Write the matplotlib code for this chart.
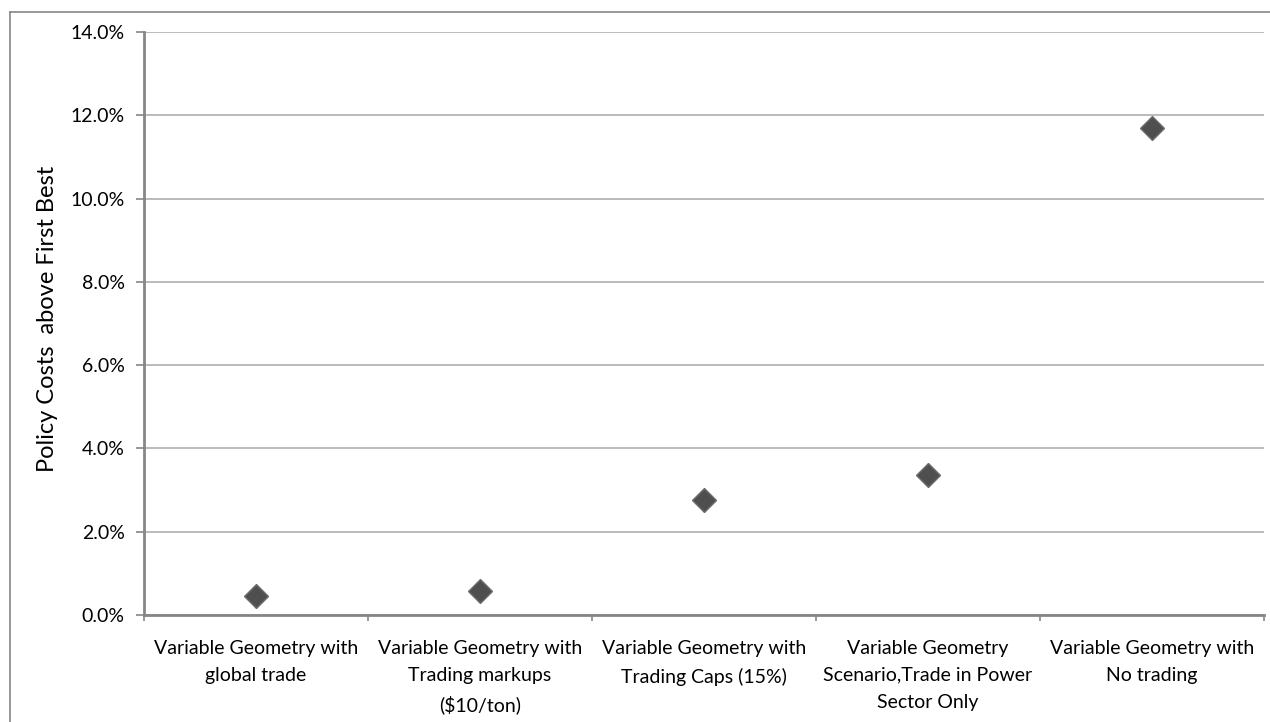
import matplotlib
matplotlib.use("Agg")

import matplotlib.pyplot as plt
from matplotlib.lines import Line2D
from matplotlib.ticker import FuncFormatter

# data (percent above first best)
categories = [
    "Variable Geometry with\nglobal trade",
    "Variable Geometry with\nTrading markups\n($10/ton)",
    "Variable Geometry with\nTrading Caps (15%)",
    "Variable Geometry\nScenario,Trade in Power\nSector Only",
    "Variable Geometry with\nNo trading",
]
costs = [0.46, 0.57, 2.76, 3.36, 11.69]
y_ticks = [0, 2, 4, 6, 8, 10, 12, 14]

plt.rcParams["font.family"] = ["Lato", "DejaVu Sans"]

W, H = 1270, 722
x0, x1, ytop, ybot = 144, 1264, 32, 615
fig = plt.figure(figsize=(W / 100, H / 100), dpi=100)
ax = fig.add_axes([x0 / W, (H - ybot) / H, (x1 - x0) / W, (ybot - ytop) / H])

x = range(len(categories))
ax.plot(x, costs, linestyle="none", marker="D", markersize=12.5,
        markerfacecolor="#4f4f4f", markeredgecolor="#6e6e6e",
        markeredgewidth=1.0, zorder=3, clip_on=False)

ax.set_xlim(-0.5, len(categories) - 0.5)
ax.set_ylim(0, 14)
ax.set_yticks(y_ticks)
ax.yaxis.set_major_formatter(FuncFormatter(lambda v, p: f"{v:.1f}%"))
ax.grid(axis="y", color="#b5b5b5", linewidth=1.3)
ax.set_axisbelow(True)

# category boundaries as ticks, labels centred in between
ax.set_xticks([i - 0.5 for i in range(len(categories) + 1)])
ax.set_xticklabels([])
ax.set_xticks(list(x), minor=True)
ax.set_xticklabels(categories, minor=True, fontsize=14, linespacing=1.7,
                   va="top")
ax.tick_params(axis="x", which="minor", length=0, pad=18)
ax.tick_params(axis="x", which="major", length=4, width=1.2, color="#868686")
ax.tick_params(axis="y", length=6, width=1.2, color="#868686",
               labelsize=14, pad=8)

for s in ["top", "right"]:
    ax.spines[s].set_visible(False)
for s in ["left", "bottom"]:
    ax.spines[s].set_color("#868686")
    ax.spines[s].set_linewidth(2)

ax.set_ylabel("Policy Costs  above First Best", fontsize=17)
ax.yaxis.set_label_coords((58 - x0) / (x1 - x0), (ybot - 319) / (ybot - ytop))

# outer chart frame (left and top edges visible)
fig.add_artist(Line2D([10 / W, 10 / W], [0, (H - 12) / H], color="#868686",
                      linewidth=1.2))
fig.add_artist(Line2D([10 / W, 1], [(H - 12) / H, (H - 12) / H],
                      color="#868686", linewidth=1.2))

fig.savefig("out.png", dpi=100)
